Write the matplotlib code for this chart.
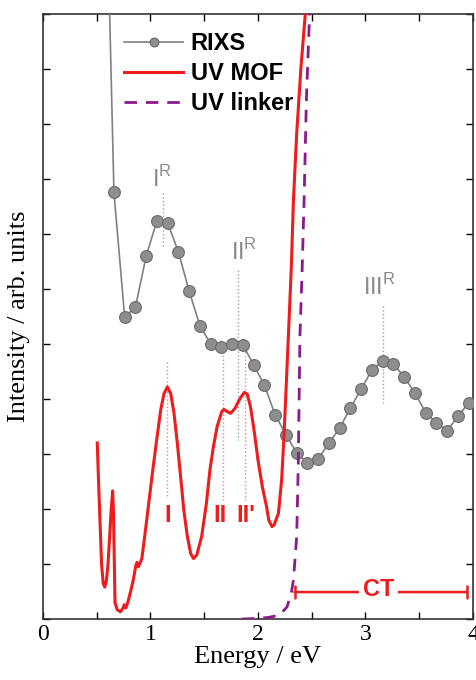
import matplotlib
matplotlib.use("Agg")
import matplotlib.pyplot as plt

# RIXS spectrum (points every 0.1 eV)
rixs_x = [0.56, 0.66, 0.76, 0.86, 0.96, 1.06, 1.16, 1.26, 1.36, 1.46, 1.56, 1.66, 1.76, 1.86,
          1.96, 2.06, 2.16, 2.26, 2.36, 2.46, 2.56, 2.66, 2.76, 2.86, 2.96, 3.06, 3.16, 3.26,
          3.36, 3.46, 3.56, 3.66, 3.76, 3.86, 3.96]
rixs_y = [15.9, 7.76, 5.49, 5.67, 6.6, 7.24, 7.2, 6.67, 5.96, 5.33, 5.0, 4.95, 5.0, 4.98,
          4.62, 4.25, 3.71, 3.35, 3.02, 2.84, 2.91, 3.2, 3.47, 3.84, 4.18, 4.53, 4.69, 4.64,
          4.4, 4.11, 3.75, 3.56, 3.42, 3.69, 3.93]

# UV absorption of the MOF
mof_x = [0.505, 0.515, 0.53, 0.545, 0.56, 0.575, 0.59, 0.605, 0.62, 0.635, 0.648, 0.655, 0.662,
         0.67, 0.69, 0.72, 0.745, 0.756, 0.77, 0.79, 0.815, 0.84, 0.865, 0.875, 0.888, 0.90,
         0.92, 0.965, 1.01, 1.057, 1.095, 1.126, 1.157, 1.188, 1.219, 1.25, 1.28, 1.31, 1.343,
         1.374, 1.40, 1.43, 1.476, 1.52, 1.553, 1.585, 1.62, 1.663, 1.684, 1.715, 1.746, 1.786,
         1.833, 1.873, 1.90, 1.93, 1.963, 2.0, 2.04, 2.08, 2.10, 2.13, 2.15, 2.19, 2.22, 2.24,
         2.265, 2.285, 2.31, 2.33, 2.36, 2.40, 2.44, 2.46]
mof_y = [3.2, 2.6, 1.8, 1.0, 0.65, 0.58, 0.7, 1.0, 1.5, 2.0, 2.33, 2.0, 1.2,
         0.3, 0.17, 0.13, 0.2, 0.26, 0.2, 0.31, 0.5, 0.71, 0.98, 1.03, 0.95, 1.0,
         1.1, 1.8, 2.53, 3.25, 3.8, 4.1, 4.22, 4.1, 3.74, 3.19, 2.59, 1.98, 1.5,
         1.19, 1.1, 1.16, 1.5, 2.1, 2.71, 3.13, 3.5, 3.77, 3.81, 3.77, 3.74, 3.83,
         4.01, 4.12, 4.09, 3.86, 3.44, 2.89, 2.41, 2.04, 1.8, 1.68, 1.71, 1.92, 2.53, 3.25,
         4.35, 5.25, 6.4, 7.62, 8.83, 10.04, 11.0, 11.4]

# UV absorption of the linker
linker_x = [1.85, 2.0, 2.1, 2.2, 2.27, 2.31, 2.33, 2.36, 2.375, 2.39, 2.41, 2.43, 2.45, 2.48, 2.49]
linker_y = [0.0, 0.01, 0.03, 0.07, 0.22, 0.47, 0.71, 1.5, 2.84, 5.13, 6.3, 7.7, 9.44, 11.0, 11.5]

# peak markers: (x, y_top, y_bottom)
rixs_marks = [(1.12, 7.74, 6.76), (1.81, 6.35, 3.25), (3.16, 5.7, 3.93)]
rixs_names = ["I", "II", "III"]
rixs_name_pos = [(1.11, 7.85), (1.87, 6.53), (3.13, 5.89)]
mof_marks = [(1.15, 4.67, 2.2), (1.67, 4.93, 2.16), (1.88, 4.93, 2.16)]
mof_names = ["I", "II", "II'"]
mof_name_pos = [(1.16, 1.89), (1.65, 1.89), (1.89, 1.89)]
ct_range = (2.34, 3.94)
ct_level = 0.49

gray = "#808080"
red = "#ee1c1c"
purple = "#8b1a8b"

fig = plt.figure(figsize=(4.76, 6.8), dpi=100)
ax = fig.add_axes([0.0903, 0.0897, 0.9034, 0.8897])

ax.plot(rixs_x, rixs_y, color=gray, lw=1.2, marker="o", ms=8.5,
        mfc="#8e8e8e", mec="#6a6a6a", mew=0.8, label="RIXS", zorder=3)
ax.plot(mof_x, mof_y, color=red, lw=2.2, label="UV MOF", zorder=4)
ax.plot(linker_x, linker_y, color=purple, lw=2.0, ls=(0, (4.5, 3.2)), label="UV linker", zorder=4)

for (x, y1, y2), name, (tx, ty) in zip(rixs_marks, rixs_names, rixs_name_pos):
    ax.plot([x, x], [y1, y2], color="#a0a0a0", lw=1.0, ls=":", zorder=2)
    ax.text(tx, ty, name + r"$^\mathregular{R}$", color="#8a8a8a", fontsize=17,
            family="Liberation Sans", ha="center", va="baseline")

for (x, y1, y2), name, (tx, ty) in zip(mof_marks, mof_names, mof_name_pos):
    ax.plot([x, x], [y1, y2], color="#f08080", lw=1.0, ls=":", zorder=2)
    ax.text(tx, ty, name, color=red, fontsize=17, fontweight="bold",
            family="Liberation Sans", ha="center", va="center")

ax.annotate("", xy=(ct_range[0], ct_level), xytext=(ct_range[1], ct_level),
            arrowprops=dict(arrowstyle="|-|", color=red, lw=1.8,
                            mutation_scale=4, shrinkA=0, shrinkB=0))
ax.text((ct_range[0] + ct_range[1]) / 2 - 0.02, ct_level + 0.05, "CT", color=red, fontsize=17,
        fontweight="bold", family="Liberation Sans", ha="center", va="center",
        bbox=dict(facecolor="white", edgecolor="none", pad=2.5), zorder=5)

ax.set_xlim(0, 4)
ax.set_ylim(0, 11)
ax.set_xticks([0, 1, 2, 3, 4])
ax.set_xticks([0.5, 1.5, 2.5, 3.5], minor=True)
ax.set_yticks(range(0, 12))
ax.set_yticklabels([])
ax.tick_params(which="both", direction="in", top=True, right=True, width=1.0)
ax.tick_params(which="major", length=5)
ax.tick_params(which="minor", length=5)
for lab in ax.get_xticklabels():
    lab.set_family("Liberation Serif")
    lab.set_fontsize(17)
for sp in ax.spines.values():
    sp.set_linewidth(1.2)
    sp.set_color("#333333")

ax.set_xlabel("Energy / eV", family="Liberation Serif", fontsize=19, labelpad=1)
ax.set_ylabel("Intensity / arb. units", family="Liberation Serif", fontsize=19, labelpad=6)

leg = ax.legend(loc="upper left", bbox_to_anchor=(0.14, 1.005), frameon=False,
                prop=dict(family="Liberation Sans", weight="bold", size=17),
                handlelength=2.5, handletextpad=0.3, labelspacing=0.3, markerscale=0.75)

fig.savefig("out.png", dpi=100)
